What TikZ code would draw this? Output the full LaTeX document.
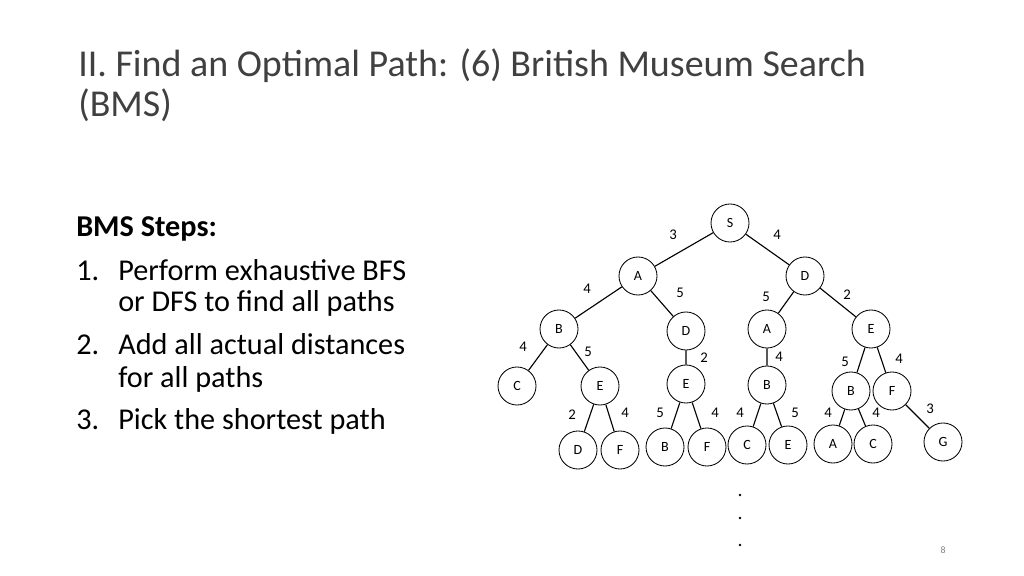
\documentclass[tikz,border=0pt]{standalone}
\usepackage{fontspec}
\setmainfont{Carlito}
\usetikzlibrary{positioning}
\definecolor{titlegray}{HTML}{404040}
\begin{document}
\begin{tikzpicture}[x=0.025cm,y=-0.025cm,
    vert/.style={circle,draw,line width=0.6pt,minimum size=0.95cm,inner sep=0pt,font=\fontsize{10}{12}\selectfont},
    wt/.style={font=\fontsize{10.5}{12}\selectfont,inner sep=0pt},
    txt/.style={anchor=base west,inner sep=0pt,font=\fontsize{21.5}{24}\selectfont},
    ttl/.style={anchor=base west,inner sep=0pt,text=titlegray,font=\fontsize{27}{32}\selectfont},
    edge/.style={line width=0.8pt}]
  \useasboundingbox (0,0) rectangle (1024,576);
  % title and text
  \node[ttl] (t1) at (78,77) {II. Find an Optimal Path: (6) British Museum Search};
  \node[ttl] (t2) at (78,117) {(BMS)};
  \node[txt] (hd) at (76,237) {\bfseries BMS Steps:};
  \node[txt] (n1) at (76,281) {1.};
  \node[txt] (s1) at (118,281) {Perform exhaustive BFS};
  \node[txt] (s1b) at (118,312) {or DFS to find all paths};
  \node[txt] (n2) at (76,355) {2.};
  \node[txt] (s2) at (118,355) {Add all actual distances};
  \node[txt] (s2b) at (118,387) {for all paths};
  \node[txt] (n3) at (76,429) {3.};
  \node[txt] (s3) at (118,429) {Pick the shortest path};
  % tree
  \node[vert] (S) at (730,223) {S};
  \node[vert] (A) at (638,276) {A};
  \node[vert] (D) at (805,276) {D};
  \node[vert] (AB) at (559,329) {B};
  \node[vert] (AD) at (686,331) {D};
  \node[vert] (DA) at (767,329) {A};
  \node[vert] (DE) at (871,329) {E};
  \node[vert] (ABC) at (517,386) {C};
  \node[vert] (ABE) at (600,386) {E};
  \node[vert] (ADE) at (686,384) {E};
  \node[vert] (DAB) at (767,385) {B};
  \node[vert] (DEB) at (851,391) {B};
  \node[vert] (DEF) at (892,391) {F};
  \node[vert] (ABED) at (578,450) {D};
  \node[vert] (ABEF) at (620,450) {F};
  \node[vert] (ADEB) at (665,447) {B};
  \node[vert] (ADEF) at (707,447) {F};
  \node[vert] (DABC) at (747,445) {C};
  \node[vert] (DABE) at (788,445) {E};
  \node[vert] (DEBA) at (833,444) {A};
  \node[vert] (DEBC) at (873,444) {C};
  \node[vert] (DEFG) at (943,442) {G};
  \draw[edge] (S)--(A) (S)--(D) (A)--(AB) (A)--(AD) (D)--(DA) (D)--(DE)
    (AB)--(ABC) (AB)--(ABE) (AD)--(ADE) (DA)--(DAB) (DE)--(DEB) (DE)--(DEF)
    (ABE)--(ABED) (ABE)--(ABEF) (ADE)--(ADEB) (ADE)--(ADEF)
    (DAB)--(DABC) (DAB)--(DABE) (DEB)--(DEBA) (DEB)--(DEBC) (DEF)--(DEFG);
  % weights
  \foreach \p/\w in {{673,235}/3,{777,235}/4,{587,289}/4,{680,293}/5,{766,297}/5,{847,295}/2,
      {523,347}/4,{588,352}/5,{704,358}/2,{779,357}/4,{845,362}/5,{899,359}/4,
      {572,415}/2,{625,413}/4,{660,413}/5,{715,413}/4,{740,413}/4,{795,413}/5,
      {828,413}/4,{876,413}/4,{930,409}/3}
    \node[wt] at (\p) {\w};
  % dots
  \foreach \y in {495,518,545}
    \fill (740,\y) circle (1.3);
  \node[font=\fontsize{7}{8}\selectfont,text=gray] (pg) at (943,550) {8};
\end{tikzpicture}
\end{document}
